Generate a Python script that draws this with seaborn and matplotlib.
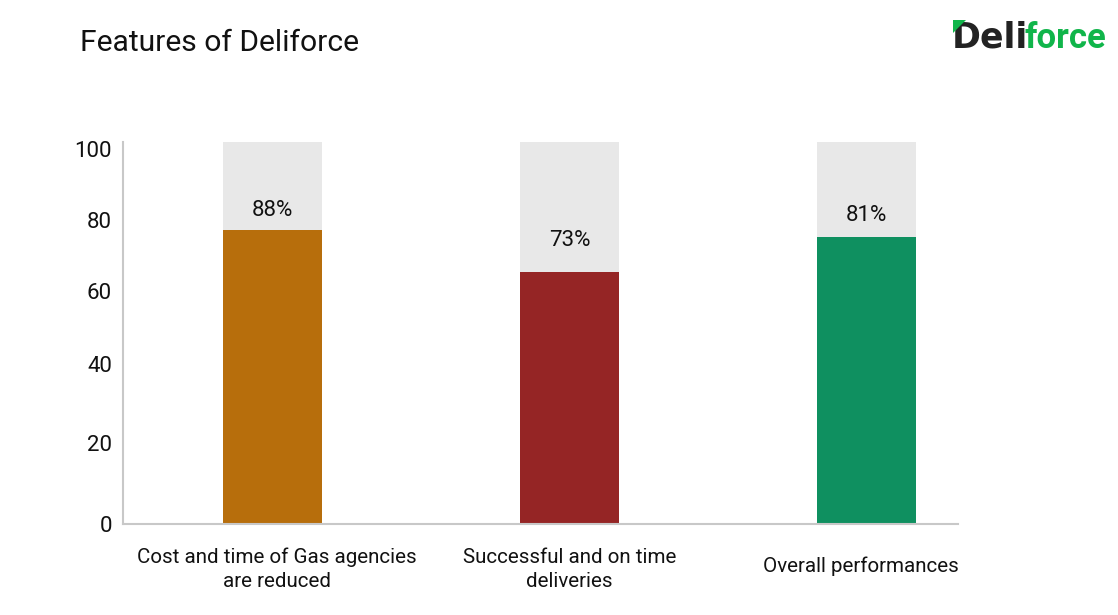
import matplotlib
matplotlib.use("Agg")
import matplotlib.pyplot as plt
from matplotlib.patches import Polygon
from matplotlib.transforms import ScaledTranslation
import pandas as pd
import seaborn as sns

categories = ["Cost and time of Gas agencies\nare reduced", "Successful and on time\ndeliveries", "Overall performances"]
bar_values = [77, 66, 75]
labels = ["88%", "73%", "81%"]
full_values = [100, 100, 100]
colors = ["#B76E0C", "#952525", "#0F9060"]
y_labels = ["0", "20", "40", "60", "80", "100"]

# the labels in the picture do not sit evenly on the axis
y_label_at = [0, 21, 41.8, 60.9, 79.5, 98.2]
bar_label_at = [82.1, 74.1, 80.8]

sns.set_theme(style="white")
plt.rcParams['font.family'] = ['Roboto', 'DejaVu Sans']

df = pd.DataFrame({"category": categories, "value": bar_values, "full": full_values, "label": labels})

fig = plt.figure(figsize=(11.18, 6.15), dpi=100)
ax = fig.add_axes([123 / 1118, 1 - 523.5 / 615, 835 / 1118, 381.5 / 615])

sns.barplot(data=df, x="category", y="full", color="#E8E8E8", width=1 / 3, saturation=1,
	linewidth=0, ax=ax)
sns.barplot(data=df, x="category", y="value", hue="category", palette=colors, legend=False,
	width=1 / 3, saturation=1, linewidth=0, ax=ax)

ax.set_xlim(-0.503, 2.308)
ax.set_ylim(0, 100)
ax.set_xlabel("")
ax.set_ylabel("")

for i, row in df.iterrows():
	ax.text(i, bar_label_at[i], row["label"], ha="center", va="center", fontsize=16, color="#111111")

ax.set_yticks(y_label_at, y_labels)
ax.tick_params(axis="y", length=0, pad=8, labelsize=16, labelcolor="#111111")
ax.set_xticks([0.015, 1.0, 1.98], categories)
ax.tick_params(axis="x", length=0, labelsize=14.8, labelcolor="#111111", pad=31)
xlabels = ax.get_xticklabels()
for t in xlabels:
	t.set_va("center")
	t.set_linespacing(1.35)
# two line labels hang a little lower than the single one
for t in xlabels[:2]:
	t.set_transform(t.get_transform() + ScaledTranslation(0, -3 / 100, fig.dpi_scale_trans))

sns.despine(ax=ax)
for side in ["left", "bottom"]:
	ax.spines[side].set_color("#C8C8C8")
	ax.spines[side].set_linewidth(1.5)

fig.text(80 / 1118, 1 - 43 / 615, "Features of Deliforce", fontsize=21.6, color="#111111", va="center")

# logo
fig.text(952 / 1118, 1 - 37 / 615, "Deli", fontsize=25, fontweight="bold", color="#222222", va="center", family="DejaVu Sans")
fig.text(1106 / 1118, 1 - 38 / 615, "force", fontsize=25, fontweight="bold", color="#10B54A", va="center", ha="right", family="Roboto")
fig.add_artist(Polygon([[953 / 1118, 1 - 20 / 615], [966 / 1118, 1 - 20 / 615], [953 / 1118, 1 - 33 / 615]],
	closed=True, color="#10B54A", transform=fig.transFigure, linewidth=0, zorder=10))

fig.savefig("out.png", dpi=100)
